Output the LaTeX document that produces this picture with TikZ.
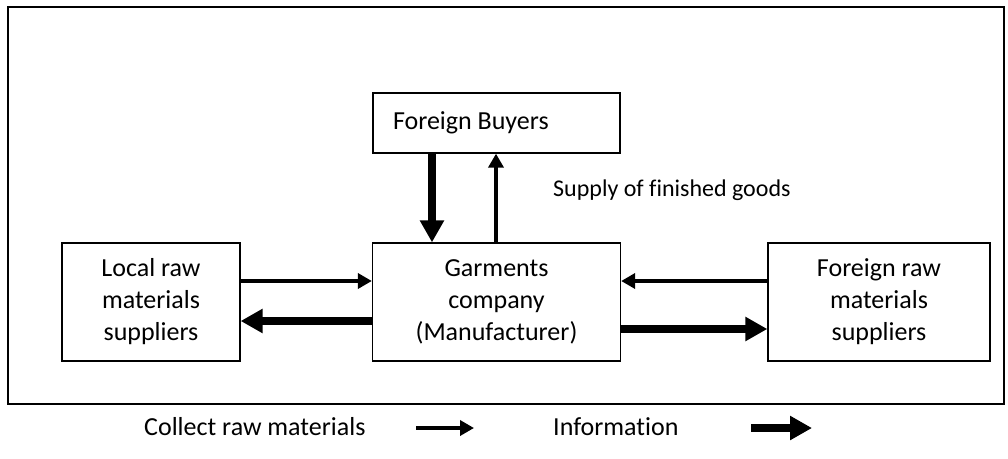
\documentclass[tikz,border=0pt]{standalone}
\usepackage{fontspec}
\setmainfont{Carlito}[Ligatures=NoCommon]
\usetikzlibrary{arrows.meta}
\begin{document}
\begin{tikzpicture}[x=1pt,y=-1pt,
  box/.style={draw, line width=1.3pt, inner sep=0pt, align=center,
    font=\fontsize{26}{32}\selectfont},
  txt/.style={inner sep=0pt, anchor=west, font=\fontsize{26}{32}\selectfont},
  thinarrow/.style={line width=3.6pt, -{Triangle[length=14pt,width=15pt]}},
  thickarrow/.style={line width=7.5pt, -{Triangle[length=22pt,width=23pt]}}]
\useasboundingbox (0,0) rectangle (1008,458);
% outer frame
\draw[line width=1.6pt] (8,7) rectangle (1004,404);

% boxes
\node[box, minimum width=247pt, minimum height=60pt, text width=207pt, align=flush left]
  (fb) at (496.5,123) {Foreign Buyers};
\node[box, minimum width=248pt, minimum height=118pt]
  (gc) at (496.5,302) {Garments\\company\\(Manufacturer)};
\node[box, minimum width=178pt, minimum height=118pt]
  (lr) at (151,302) {Local raw\\materials\\suppliers};
\node[box, minimum width=222pt, minimum height=118pt]
  (fr) at (879,302) {Foreign raw\\materials\\suppliers};

% connector rows and columns
\coordinate (yA) at (0,281);
\coordinate (yB) at (0,321);
\coordinate (yC) at (0,329);
\coordinate (xA) at (432,0);
\coordinate (xB) at (496,0);

\draw[thinarrow]  (lr.east |- yA) -- (gc.west |- yA);
\draw[thickarrow] (gc.west |- yB) -- (lr.east |- yB);
\draw[thinarrow]  (fr.west |- yA) -- (gc.east |- yA);
\draw[thickarrow] (gc.east |- yC) -- (fr.west |- yC);
\draw[thickarrow] (fb.south -| xA) -- (gc.north -| xA);
\draw[thinarrow]  (gc.north -| xB) -- (fb.south -| xB);

\node[txt, font=\fontsize{24}{29}\selectfont] (sup) at (553,190) {Supply of finished goods};

% legend
\node[txt] (l1) at (144,427) {Collect raw materials};
\coordinate (a1) at (416,428);
\coordinate (a2) at (474,428);
\draw[thinarrow, line width=4.5pt] (a1) -- (a2);
\node[txt] (l2) at (553,427) {Information};
\coordinate (b1) at (751,428);
\coordinate (b2) at (812,428);
\draw[thickarrow, line width=8.5pt] (b1) -- (b2);
\end{tikzpicture}
\end{document}
